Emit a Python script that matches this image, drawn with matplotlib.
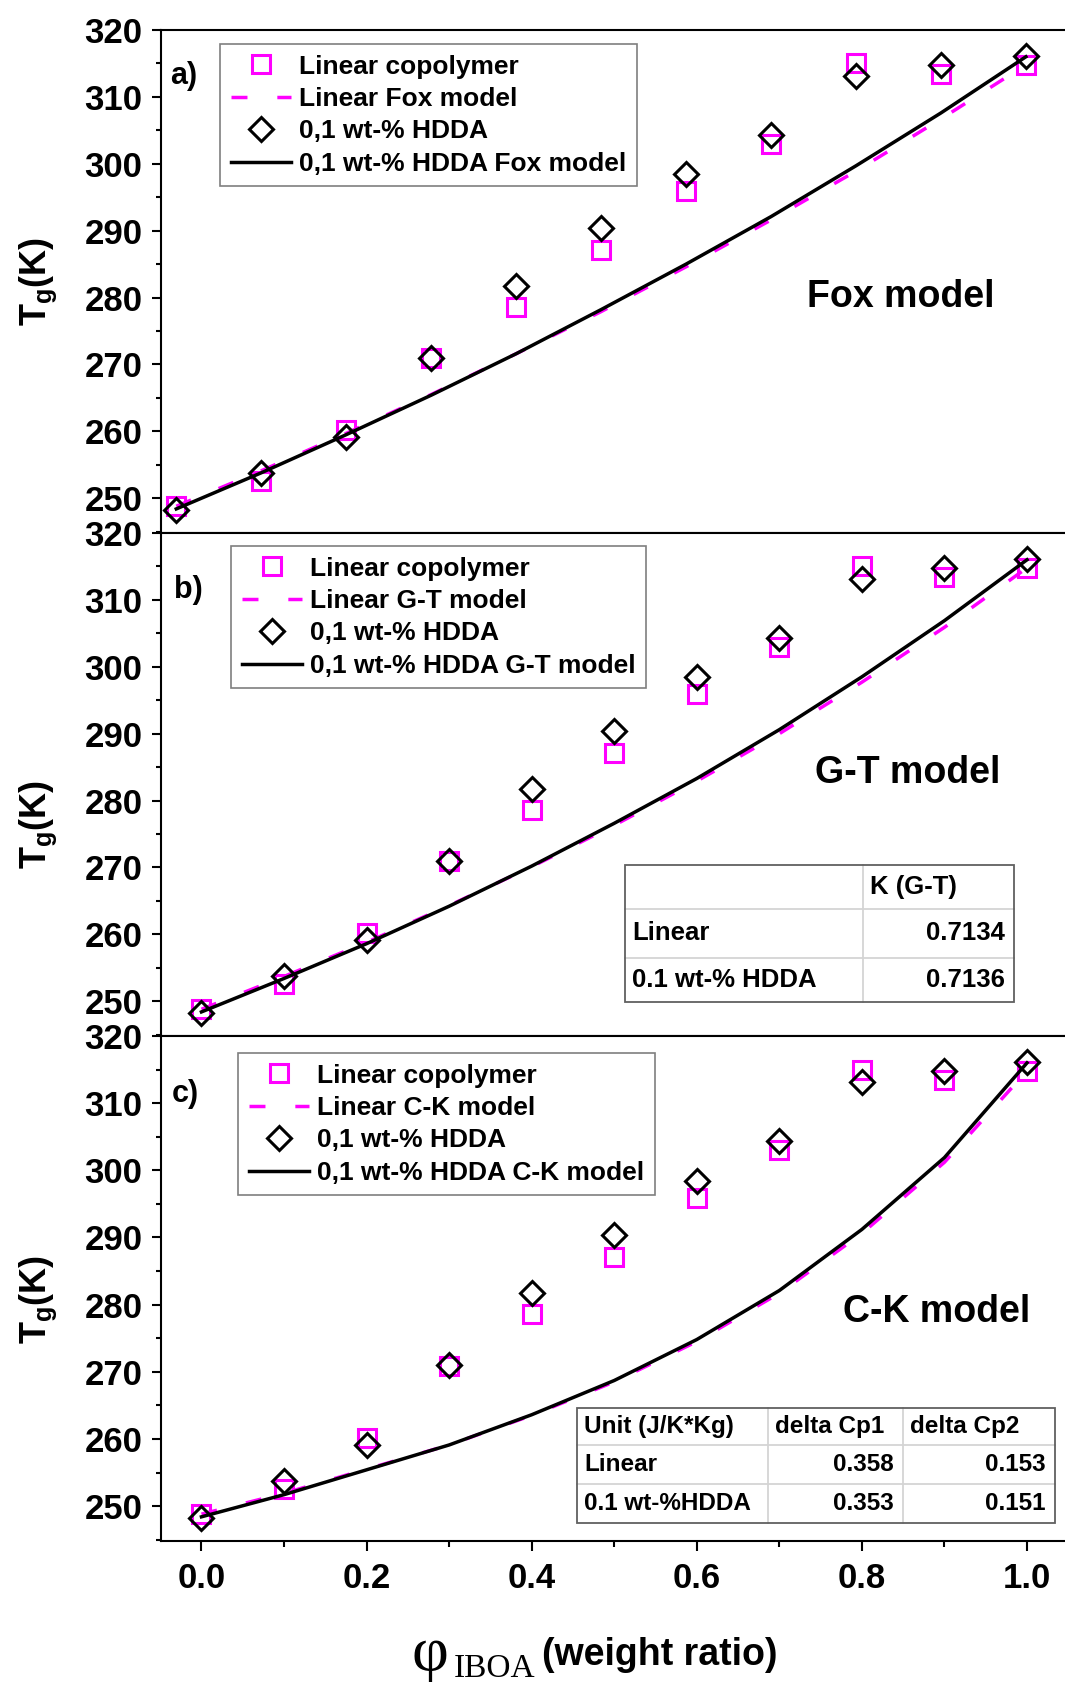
import matplotlib
matplotlib.use('Agg')
import matplotlib.pyplot as plt
from matplotlib.lines import Line2D
from matplotlib.patches import Rectangle
from matplotlib.ticker import MultipleLocator, FormatStrFormatter

# weight ratio of IBOA
phi = [0.0, 0.1, 0.2, 0.3, 0.4, 0.5, 0.6, 0.7, 0.8, 0.9, 1.0]

# measured Tg (K)
tg_linear = [248.8, 252.6, 260.2, 270.9, 278.6, 287.1, 295.9, 303.0, 315.0, 313.4, 314.8]
tg_hdda = [248.2, 253.7, 259.1, 271.0, 281.8, 290.4, 298.4, 304.3, 313.1, 314.8, 316.1]

# model curves (K)
fox_linear = [248.8, 254.1, 259.7, 265.5, 271.6, 277.9, 284.6, 291.6, 298.9, 306.7, 314.8]
fox_hdda = [248.4, 253.8, 259.5, 265.4, 271.6, 278.2, 285.0, 292.1, 299.7, 307.6, 316.0]
gt_linear = [248.8, 253.7, 258.8, 264.3, 270.1, 276.3, 282.9, 290.0, 297.7, 305.9, 314.8]
gt_hdda = [248.4, 253.4, 258.6, 264.2, 270.2, 276.6, 283.3, 290.6, 298.5, 306.9, 316.0]
ck_linear = [248.8, 251.9, 255.5, 259.1, 263.5, 268.5, 274.5, 281.7, 290.6, 301.2, 314.8]
ck_hdda = [248.4, 251.7, 255.4, 259.1, 263.6, 268.7, 274.8, 282.1, 291.2, 301.9, 316.0]

panel_tags = ['a)', 'b)', 'c)']
model_short = ['Fox', 'G-T', 'C-K']
model_titles = ['Fox model', 'G-T model', 'C-K model']
model_linear = [fox_linear, gt_linear, ck_linear]
model_hdda = [fox_hdda, gt_hdda, ck_hdda]

gt_table = [['', 'K (G-T)'],
            ['Linear', '0.7134'],
            ['0.1 wt-% HDDA', '0.7136']]
ck_table = [['Unit (J/K*Kg)', 'delta Cp1', 'delta Cp2'],
            ['Linear', '0.358', '0.153'],
            ['0.1 wt-%HDDA', '0.353', '0.151']]

plt.rcParams['font.family'] = ['Liberation Sans', 'DejaVu Sans']
plt.rcParams['font.weight'] = 'bold'
plt.rcParams['mathtext.fontset'] = 'custom'
plt.rcParams['mathtext.rm'] = 'Liberation Sans:bold'
plt.rcParams['mathtext.it'] = 'Liberation Sans:bold'
plt.rcParams['mathtext.bf'] = 'Liberation Sans:bold'

W, H = 1065, 1682
MAGENTA = '#ff00ff'


def fx(x):
    return x / W


def fy(y):
    return 1 - y / H


fig = plt.figure(figsize=(W / 100, H / 100), dpi=100)

# pixel layout of the three stacked panels
panel_px = [(30, 533), (533, 1036), (1036, 1541)]
xlims = [(-0.018, 1.046), (-0.049, 1.046), (-0.049, 1.046)]
legend_px = [(220, 44), (231, 546), (238, 1053)]
tag_px = [(170, 76), (174, 590), (172, 1094)]
title_px = [(901, 297), (908, 773), (937, 1312)]
ylabel_py = [281, 824, 1299]

for i in range(3):
    top, bot = panel_px[i]
    ax = fig.add_axes([fx(161), fy(bot), fx(1065) - fx(161), (bot - top) / H])

    ax.plot(phi, tg_linear, ls='none', marker='s', ms=12.5, mfc='none',
            mec=MAGENTA, mew=2.2, label='Linear copolymer')
    ax.plot(phi, model_linear[i], color=MAGENTA, lw=2.5, dashes=(4.6, 8.6),
            label='Linear %s model' % model_short[i])
    ax.plot(phi, tg_hdda, ls='none', marker='D', ms=12, mfc='none',
            mec='black', mew=2.2, label='0,1 wt-% HDDA')
    ax.plot(phi, model_hdda[i], color='black', lw=2.5,
            label='0,1 wt-%% HDDA %s model' % model_short[i])

    ax.set_xlim(*xlims[i])
    ax.set_ylim(244.8, 320)
    ax.yaxis.set_major_locator(MultipleLocator(10))
    ax.yaxis.set_minor_locator(MultipleLocator(5))
    ax.tick_params(axis='y', which='major', direction='out', length=6.5,
                   width=1.5, labelsize=25, pad=7, right=False)
    ax.tick_params(axis='y', which='minor', direction='out', length=3.6,
                   width=1.5, right=False)
    if i < 2:
        ax.tick_params(axis='x', which='both', bottom=False, top=False,
                       labelbottom=False)
    else:
        ax.xaxis.set_major_locator(MultipleLocator(0.2))
        ax.xaxis.set_minor_locator(MultipleLocator(0.1))
        ax.xaxis.set_major_formatter(FormatStrFormatter('%.1f'))
        ax.tick_params(axis='x', which='major', direction='out', length=7,
                       width=1.5, labelsize=25, pad=8, top=False)
        ax.tick_params(axis='x', which='minor', direction='out', length=4.3,
                       width=1.5, top=False)
    ax.spines['right'].set_visible(False)
    for s in ['left', 'top', 'bottom']:
        ax.spines[s].set_linewidth(1.5)

    leg = ax.legend(loc='upper left', bbox_to_anchor=(fx(legend_px[i][0]), fy(legend_px[i][1])),
                    bbox_transform=fig.transFigure, borderaxespad=0, fontsize=19,
                    handlelength=2.3, handletextpad=0.3, labelspacing=0.32,
                    borderpad=0.4, numpoints=1, fancybox=False, framealpha=1)
    leg.get_frame().set_edgecolor('#7f7f7f')
    leg.get_frame().set_linewidth(1.2)

    fig.text(fx(tag_px[i][0]), fy(tag_px[i][1]), panel_tags[i], fontsize=22,
             ha='left', va='center')
    fig.text(fx(title_px[i][0]), fy(title_px[i][1]), model_titles[i], fontsize=27,
             ha='center', va='center')
    fig.text(fx(38), fy(ylabel_py[i]), r'$\mathrm{T_g(K)}$', fontsize=26,
             rotation=90, ha='center', va='center')


def draw_table(cells, col_edges, row_edges, size):
    x0, x1 = col_edges[0], col_edges[-1]
    y0, y1 = row_edges[0], row_edges[-1]
    fig.add_artist(Rectangle((fx(x0), fy(y1)), fx(x1) - fx(x0), fy(y0) - fy(y1),
                             transform=fig.transFigure, facecolor='white',
                             edgecolor='none', zorder=5))
    for x in col_edges[1:-1]:
        fig.add_artist(Line2D([fx(x), fx(x)], [fy(y0), fy(y1)], color='#d4d4d4',
                              lw=1.3, transform=fig.transFigure, zorder=6))
    for y in row_edges[1:-1]:
        fig.add_artist(Line2D([fx(x0), fx(x1)], [fy(y), fy(y)], color='#d4d4d4',
                              lw=1.3, transform=fig.transFigure, zorder=6))
    fig.add_artist(Rectangle((fx(x0), fy(y1)), fx(x1) - fx(x0), fy(y0) - fy(y1),
                             transform=fig.transFigure, facecolor='none',
                             edgecolor='#606060', lw=1.3, zorder=7))
    for r, row in enumerate(cells):
        yc = (row_edges[r] + row_edges[r + 1]) / 2
        for c, txt in enumerate(row):
            if r > 0 and c > 0:
                fig.text(fx(col_edges[c + 1] - 9), fy(yc), txt, fontsize=size,
                         ha='right', va='center', zorder=8)
            else:
                fig.text(fx(col_edges[c] + 7), fy(yc), txt, fontsize=size,
                         ha='left', va='center', zorder=8)


draw_table(gt_table, [625, 863, 1014], [865, 909, 958, 1002], 18.5)
draw_table(ck_table, [577, 768, 903, 1055], [1408, 1445, 1484, 1523], 17.5)

# x axis title
fig.text(fx(411), fy(1670), '\u03c6', family='Liberation Serif', fontweight='normal',
         fontsize=46, ha='left', va='baseline')
fig.text(fx(454), fy(1677), 'IBOA', family='Liberation Serif', fontweight='normal',
         fontsize=24, ha='left', va='baseline')
fig.text(fx(542), fy(1665), '(weight ratio)', fontsize=27, ha='left', va='baseline')

fig.savefig('out.png', dpi=100)
